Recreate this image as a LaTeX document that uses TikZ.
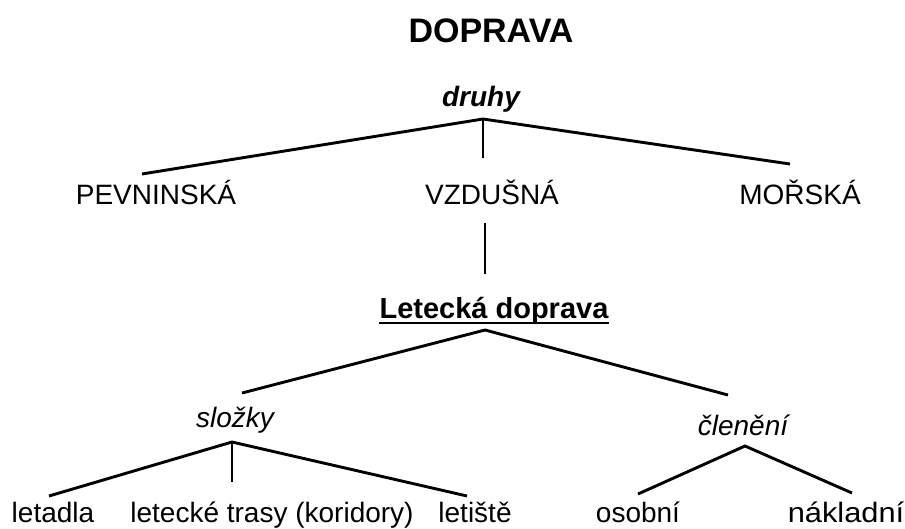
\documentclass[tikz,border=0pt]{standalone}
\usepackage{fontspec}
\setmainfont{Liberation Sans}
\begin{document}
\begin{tikzpicture}[x=1pt,y=-1pt,
  lbl/.style={anchor=base,inner sep=0pt,font=\fontsize{28}{30}\selectfont},
  ttl/.style={anchor=base,inner sep=0pt,font=\fontsize{34}{38}\selectfont\bfseries},
  cat/.style={anchor=base,inner sep=0pt,font=\fontsize{28}{30}\selectfont\itshape},
  branch/.style={line width=2.9pt,line cap=butt}]
\useasboundingbox (0,0) rectangle (905,528);
% texts
\node[ttl] (doprava) at (491,42) {DOPRAVA};
\node[cat,font=\fontsize{28}{30}\selectfont\bfseries\itshape] (druhy) at (481,106) {druhy};
\node[lbl] (pev) at (156,204) {PEVNINSKÁ};
\node[lbl] (vzd) at (492,204) {VZDUŠNÁ};
\node[lbl] (mor) at (800,204) {MOŘSKÁ};
\node[lbl,font=\fontsize{29}{31}\selectfont\bfseries] (let) at (494,318) {Letecká doprava};
\node[cat] (slo) at (235,427) {složky};
\node[cat] (cle) at (743,435) {členění};
\node[lbl] (ltd) at (53,522) {letadla};
\node[lbl] (tra) at (272,522) {letecké trasy (koridory)};
\node[lbl] (lts) at (475,522.5) {letiště};
\node[lbl] (oso) at (638,522) {osobní};
\node[lbl,xscale=1.1,transform shape] (nak) at (846,522) {nákladní};
% underline
\draw[line width=2pt] ([yshift=-4.5pt]let.base west) -- ([yshift=-4.5pt]let.base east);
% junctions and branch ends
\coordinate (j1) at (483,119);
\coordinate (e1) at (142,174);
\coordinate (e2) at (483,158);
\coordinate (e3) at (790,164);
\coordinate (v1) at (485,223);
\coordinate (v2) at (485,274);
\coordinate (j2) at (485,330);
\coordinate (e5) at (242,393);
\coordinate (e6) at (728,395);
\coordinate (j3) at (232,442);
\coordinate (e7) at (49,496);
\coordinate (e8) at (232,482);
\coordinate (e9) at (467,496);
\coordinate (j4) at (745,446);
\coordinate (e10) at (638,494);
\coordinate (e11) at (852,493);
% connectors
\draw[branch] (e1) -- (j1) -- (e3);
\draw[branch] (j1) -- (e2);
\draw[branch] (v1) -- (v2);
\draw[branch] (e5) -- (j2) -- (e6);
\draw[branch] (e7) -- (j3) -- (e9);
\draw[branch] (j3) -- (e8);
\draw[branch] (e10) -- (j4) -- (e11);
\end{tikzpicture}
\end{document}
